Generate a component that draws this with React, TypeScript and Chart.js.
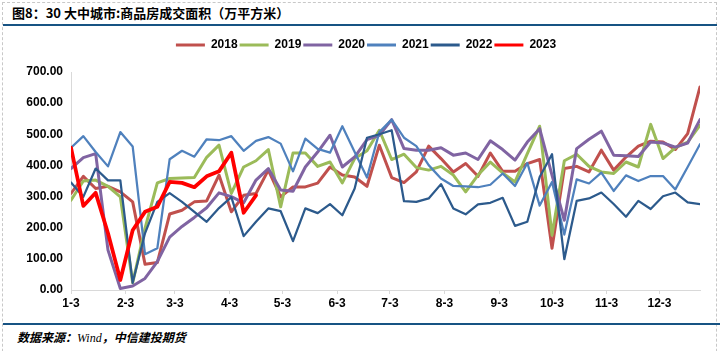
import React, { useEffect, useRef } from 'react';
import { Chart, registerables } from 'chart.js';

Chart.register(...registerables);

// Weekly observation dates (month-day)
const weekDates = [
  '1-3', '1-10', '1-17', '1-24', '1-31',
  '2-7', '2-14', '2-21', '2-28',
  '3-7', '3-14', '3-21', '3-28',
  '4-4', '4-11', '4-18', '4-25',
  '5-2', '5-9', '5-16', '5-23', '5-30',
  '6-6', '6-13', '6-20', '6-27',
  '7-4', '7-11', '7-18', '7-25',
  '8-1', '8-8', '8-15', '8-22', '8-29',
  '9-5', '9-12', '9-19', '9-26',
  '10-3', '10-10', '10-17', '10-24', '10-31',
  '11-7', '11-14', '11-21', '11-28',
  '12-5', '12-12', '12-19', '12-26',
];

// Axis tick labels
const monthTickLabels = ['1-3', '2-3', '3-3', '4-3', '5-3', '6-3', '7-3', '8-3', '9-3', '10-3', '11-3', '12-3'];
const yTickValues = [0, 100, 200, 300, 400, 500, 600, 700];

const seriesNames = ['2018', '2019', '2020', '2021', '2022', '2023'];

const s2018 = [310, 365, 326, 333, 315, 283, 83, 88, 244, 256, 283, 286, 369, 251, 304, 310, 385, 299, 331, 331, 343, 395, 369, 363, 333, 465, 361, 345, 379, 462, 422, 379, 406, 365, 440, 381, 381, 406, 419, 134, 390, 397, 379, 449, 385, 427, 462, 478, 475, 451, 502, 652];
const s2019 = [288, 350, 353, 333, 299, 23, 198, 344, 358, 360, 361, 426, 465, 310, 395, 415, 451, 267, 440, 440, 397, 411, 344, 422, 447, 513, 419, 436, 393, 385, 397, 369, 315, 369, 411, 376, 347, 438, 526, 176, 415, 436, 397, 379, 374, 411, 395, 532, 422, 457, 475, 529];
const s2020 = [390, 425, 438, 128, 5, 13, 37, 91, 170, 204, 233, 264, 312, 300, 280, 353, 390, 321, 317, 395, 443, 497, 395, 427, 483, 497, 547, 454, 449, 449, 457, 433, 440, 419, 479, 451, 417, 475, 518, 369, 224, 454, 484, 510, 433, 431, 429, 475, 472, 459, 472, 547];
const s2021 = [457, 494, 443, 397, 507, 461, 115, 134, 420, 447, 428, 484, 481, 494, 447, 479, 491, 470, 381, 486, 453, 441, 526, 443, 361, 507, 547, 489, 462, 401, 358, 334, 333, 330, 338, 374, 334, 408, 271, 347, 178, 355, 342, 377, 318, 368, 350, 366, 366, 323, 395, 468];
const s2022 = [345, 299, 390, 352, 352, 23, 182, 283, 311, 283, 251, 219, 263, 298, 173, 219, 262, 253, 157, 262, 247, 276, 240, 326, 489, 500, 513, 285, 283, 294, 340, 262, 243, 275, 280, 296, 206, 219, 363, 436, 99, 286, 294, 313, 276, 235, 286, 260, 301, 313, 281, 276];
const s2023 = [457, 270, 312, 182, 32, 192, 251, 267, 347, 344, 330, 365, 381, 441, 248, 304];

const allSeries = [s2018, s2019, s2020, s2021, s2022, s2023];
const seriesColors = ['#c0504d', '#9bbb59', '#8064a2', '#4f81bd', '#2c5a8c', '#ff0000'];
const seriesWidths = [3, 3, 3, 2.25, 2.25, 3.75];

const CUM_DAYS = [0, 31, 59, 90, 120, 151, 181, 212, 243, 273, 304, 334];
const dayOfYear = (md: string) => {
  const [m, d] = md.split('-').map(Number);
  return CUM_DAYS[m - 1] + d - 1;
};

const FONT = '"Liberation Sans", Arial, sans-serif';
const tickDays = monthTickLabels.map(dayOfYear);

export default function App() {
  const canvasRef = useRef<HTMLCanvasElement | null>(null);

  useEffect(() => {
    if (!canvasRef.current) return;
    const legendSpacer = {
      id: 'legendSpacer',
      beforeInit(chart: any) {
        const lg = chart.legend;
        if (!lg) return;
        const orig = lg.fit;
        lg.fit = function () {
          orig.call(this);
          this.height += 11;
        };
      },
      afterLayout(chart: any) {
        const lg = chart.legend;
        if (!lg) return;
        lg.left = 32;
        lg.width = lg.right - lg.left;
      },
    };

    const datasets = allSeries.map((vals, si) => ({
      label: seriesNames[si],
      data: vals.map((v, i) => ({ x: dayOfYear(weekDates[i]), y: v })),
      borderColor: seriesColors[si],
      backgroundColor: seriesColors[si],
      borderWidth: seriesWidths[si],
      pointRadius: 0,
      pointHoverRadius: 0,
      tension: 0,
      fill: false,
      borderJoinStyle: 'round' as const,
      borderCapStyle: 'round' as const,
      order: allSeries.length - si,
    }));

    const chart = new Chart(canvasRef.current, {
      type: 'line',
      data: { datasets },
      plugins: [legendSpacer],
      options: {
        animation: false,
        responsive: false,
        maintainAspectRatio: false,
        layout: { padding: { top: 7, left: 0, right: 21, bottom: 0 } },
        plugins: {
          legend: {
            position: 'top',
            labels: {
              boxWidth: 29,
              boxHeight: 3,
              padding: 2,
              color: '#000',
              font: { family: FONT, size: 12, weight: 'bold' },
              generateLabels: (c: any) =>
                c.data.datasets.map((ds: any, i: number) => ({
                  text: ds.label,
                  fillStyle: ds.borderColor,
                  strokeStyle: ds.borderColor,
                  lineWidth: 0,
                  hidden: false,
                  datasetIndex: i,
                  fontColor: '#000',
                })),
            },
          },
          tooltip: { enabled: false },
        },
        scales: {
          x: {
            type: 'linear',
            min: tickDays[0],
            max: dayOfYear(weekDates[weekDates.length - 1]),
            bounds: 'data',
            afterBuildTicks: (s: any) => {
              s.ticks = tickDays.map((v) => ({ value: v }));
            },
            afterFit: (s: any) => {
              s.height = 30;
            },
            ticks: {
              autoSkip: false,
              maxRotation: 0,
              minRotation: 0,
              padding: 2,
              color: '#000',
              font: { family: FONT, size: 12, weight: 'bold' },
              callback: (_v: any, i: number) => monthTickLabels[i],
            },
            grid: { drawOnChartArea: false, drawTicks: true, tickLength: 4, color: '#d9d9d9' },
            border: { display: true, color: '#d9d9d9' },
          },
          y: {
            min: 0,
            max: 700,
            afterBuildTicks: (s: any) => {
              s.ticks = yTickValues.map((v) => ({ value: v }));
            },
            afterFit: (s: any) => {
              s.width = 71;
            },
            ticks: {
              padding: 8,
              color: '#000',
              font: { family: FONT, size: 12, weight: 'bold' },
              callback: (v: any) => Number(v).toFixed(2),
            },
            grid: { drawOnChartArea: false, drawTicks: false, color: '#d9d9d9' },
            border: { display: true, color: '#d9d9d9' },
          },
        },
      } as any,
    });
    return () => chart.destroy();
  }, []);

  return (
    <div style={{ position: 'absolute', left: 0, top: 0, width: 721, height: 351, overflow: 'hidden', background: '#fff' }}>
      <div style={{ position: 'absolute', left: 2, top: 2, width: 715, height: 400, border: '1px dashed #c8c8c8', boxSizing: 'border-box' }} />
      <div
        style={{
          position: 'absolute', left: 12, top: 4, fontSize: 13, lineHeight: '18px', fontWeight: 'bold',
          fontFamily: '"Noto Sans CJK SC", "Liberation Sans", sans-serif', color: '#000', whiteSpace: 'nowrap',
        }}
      >
        图8：30 大中城市:商品房成交面积（万平方米）
      </div>
      <div style={{ position: 'absolute', left: 3, top: 24, width: 714, height: 2, background: '#175383' }} />
      <canvas ref={canvasRef} width={721} height={290} style={{ position: 'absolute', left: 0, top: 30, width: 721, height: 290 }} />
      <div style={{ position: 'absolute', left: 3, top: 323, width: 717, height: 2, background: '#175383' }} />
      <div
        style={{
          position: 'absolute', left: 17, top: 329, fontSize: 12, lineHeight: '16px', fontWeight: 'bold', fontStyle: 'italic',
          fontFamily: '"Noto Sans CJK SC", sans-serif', color: '#000', whiteSpace: 'nowrap',
        }}
      >
        数据来源：<span style={{ fontFamily: '"Liberation Serif", serif', fontWeight: 'normal' }}>Wind</span>，中信建投期货
      </div>
    </div>
  );
}
